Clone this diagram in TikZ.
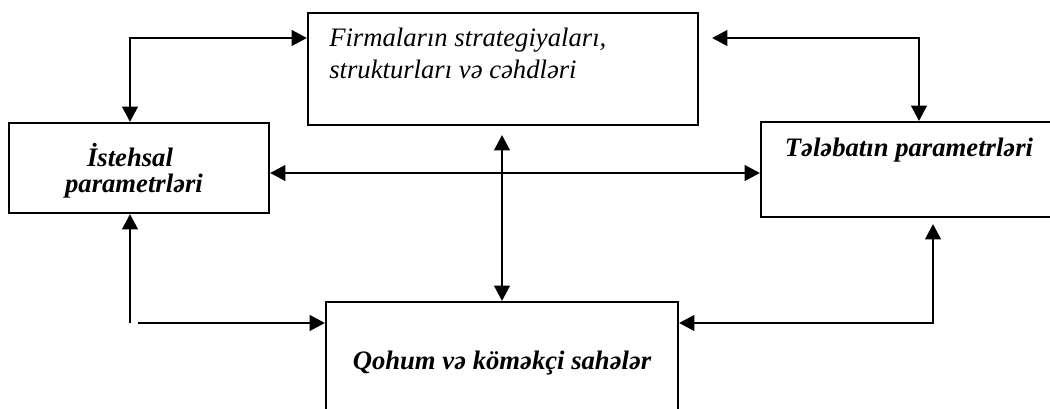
\documentclass[tikz,border=0pt]{standalone}
\usepackage{fontspec}
\setmainfont{Liberation Serif}
\usetikzlibrary{arrows.meta}
\tikzset{
  box/.style={draw, line width=1.5pt, rectangle, inner sep=0pt},
  conn/.style={line width=2.2pt, {Triangle[length=11.5pt,width=11.5pt]}-{Triangle[length=11.5pt,width=11.5pt]}},
  conn1/.style={line width=2.2pt, -{Triangle[length=11.5pt,width=11.5pt]}},
  txt/.style={inner sep=0pt, font=\fontsize{20}{20}\selectfont\itshape},
  btxt/.style={inner sep=0pt, font=\fontsize{20}{20}\selectfont\bfseries\itshape},
}
\begin{document}
\begin{tikzpicture}[x=0.75pt,y=-0.75pt]
\useasboundingbox (0,0) rectangle (1050,409);
\clip (0,0) rectangle (1050,409);
% boxes
\node[box, minimum width=292.5pt, minimum height=84pt] (firm) at (503,69) {};
\node[box, minimum width=195pt, minimum height=67.5pt] (ist) at (139,168) {};
\node[box, minimum width=222pt, minimum height=71.25pt] (tel) at (909,169.5) {};
\node[box, minimum width=264pt, minimum height=88.5pt] (qoh) at (502,361) {};
% texts
\node[txt, anchor=base west] (firmt1) at (329,47) {Firmaların strategiyaları,};
\node[txt, anchor=base west] (firmt2) at (329,79) {strukturları və cəhdləri};
\node[btxt, anchor=base] (istt1) at (130,167) {İstehsal};
\node[btxt, anchor=base] (istt2) at (134,193) {parametrləri};
\node[btxt, anchor=base] (telt) at (909,157) {Tələbatın parametrləri};
\node[btxt, anchor=base] (qoht) at (502,370) {Qohum və köməkçi sahələr};
% coordinates
\coordinate (c1) at (130,38);
\coordinate (c2) at (919,38);
\coordinate (c2e) at (712,38);
\coordinate (h) at (0,173);
\coordinate (m1) at (502,135);
\coordinate (bl) at (130,323);
\coordinate (bl2) at (138,323);
\coordinate (br) at (933,323);
\coordinate (brt) at (933,224);
% connectors
\draw[conn] (ist.north -| c1) -- (c1) -- (firm.west |- c1);
\draw[conn] (c2e) -- (c2) -- (tel.north -| c2);
\draw[conn] (ist.east |- h) -- (tel.west |- h);
\draw[conn] (m1) -- (qoh.north);
\draw[conn1] (bl) -- (ist.south -| bl);
\draw[conn1] (bl2) -- (qoh.west |- bl2);
\draw[conn] (qoh.east |- br) -- (br) -- (brt);
\end{tikzpicture}
\end{document}
